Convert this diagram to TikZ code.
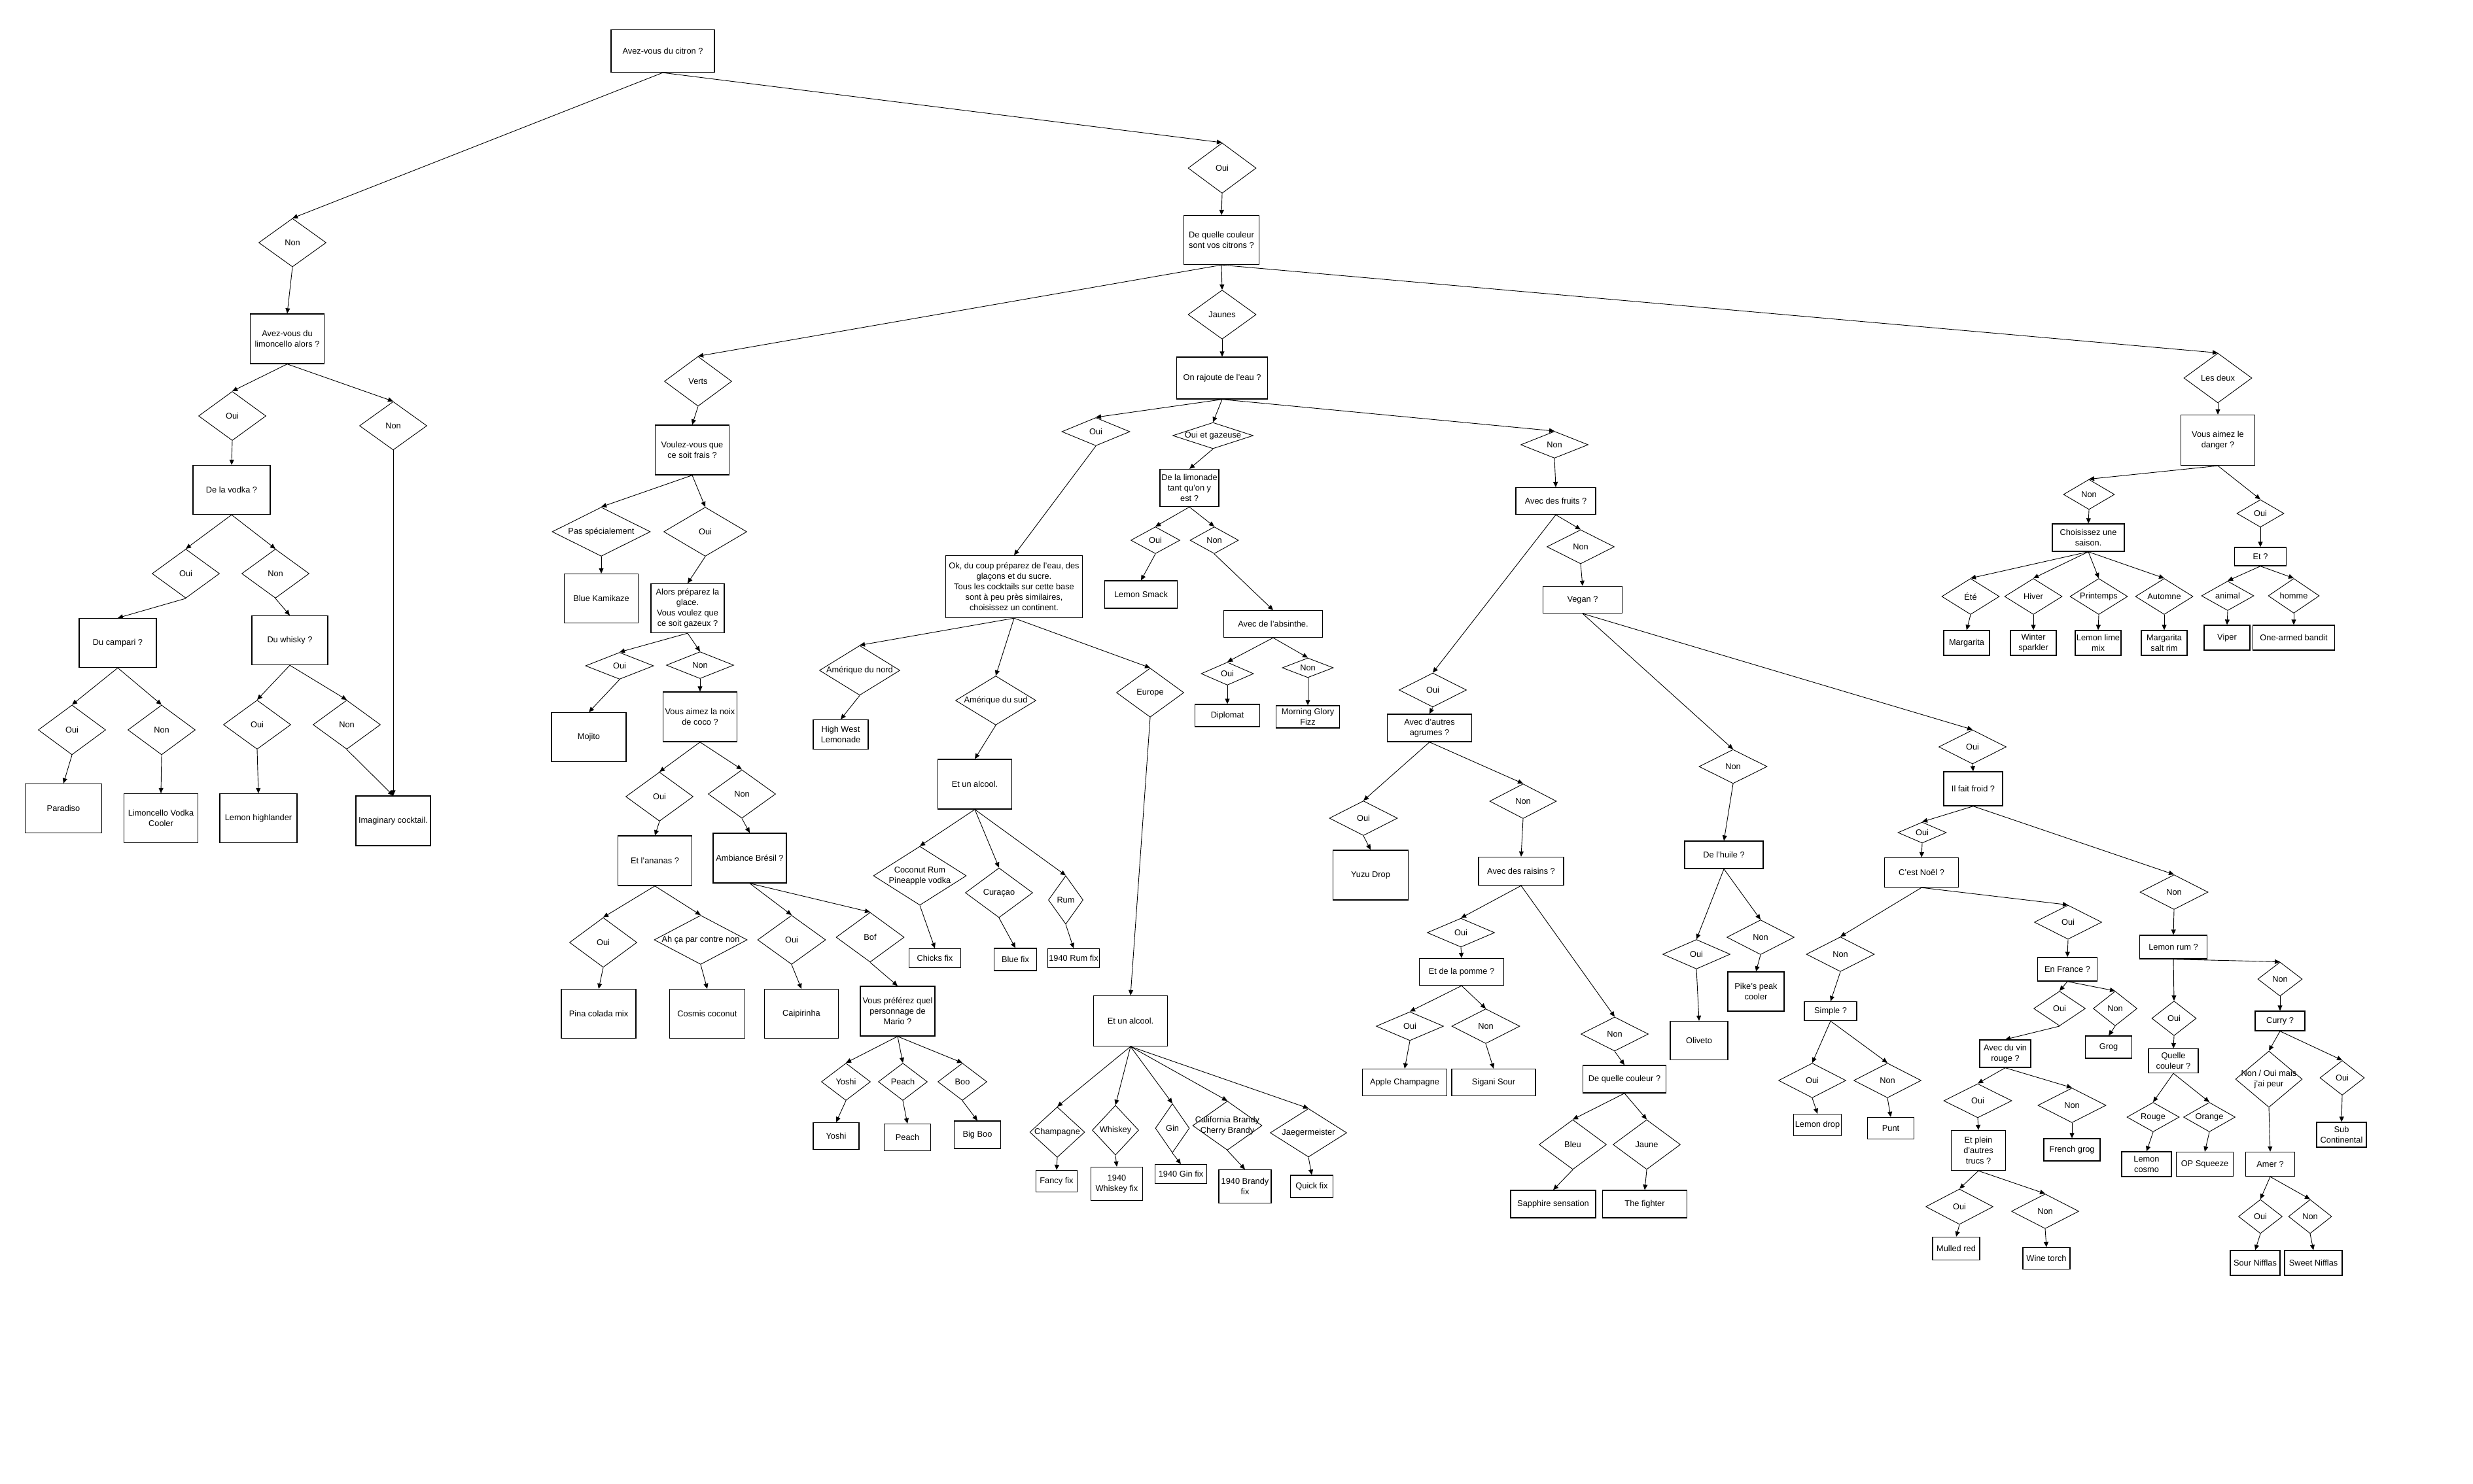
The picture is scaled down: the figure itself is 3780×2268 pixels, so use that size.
\documentclass[tikz,border=0pt]{standalone}
\usepackage{fontspec}
\setmainfont{Liberation Sans}
\usetikzlibrary{shapes.geometric,arrows.meta}
\tikzset{
  bx/.style={draw, line width=1.3pt, rectangle, align=center, inner sep=1pt},
  bs/.style 2 args={bx, minimum width=#1, minimum height=#2},
  dl/.style={align=center, inner sep=0pt},
  dm/.style n args={3}{diamond, draw, line width=0.9pt, inner sep=0pt, minimum width=#1, minimum height=#2, label={[dl]center:{#3}}},
  ar/.style={line width=0.9pt, -{Triangle[length=8pt,width=7pt]}}
}
\begin{document}
\begin{tikzpicture}[x=1pt,y=-1pt,font=\fontsize{12.8}{16}\selectfont]
\fill[white] (0,0) rectangle (3780,2268);
\useasboundingbox (0,0) rectangle (3780,2268);

% ---- root and left "Non" branch
\node[bs={158}{65}] (r0) at (1013,78) {Avez-vous du citron ?};
\node[dm={103}{74}{Non}] (dn0) at (447,371) {};
\node[bs={113}{76}] (blim) at (439,518) {Avez-vous du\\limoncello alors ?};
\node[dm={103}{75}{Oui}] (dlimo) at (355,636) {};
\node[dm={103}{74}{Non}] (dlimn) at (601,651) {};
\node[bs={118}{75}] (bvod) at (354,749) {De la vodka ?};
\node[dm={103}{75}{Oui}] (dvodo) at (284,877) {};
\node[dm={103}{75}{Non}] (dvodn) at (421,877) {};
\node[bs={118}{75}] (bcamp) at (180,983) {Du campari ?};
\node[bs={116}{75}] (bwhis) at (443,979) {Du whisky ?};
\node[dm={103}{76}{Oui}] (dcampo) at (110,1116) {};
\node[dm={103}{76}{Non}] (dcampn) at (247,1116) {};
\node[dm={103}{75}{Oui}] (dwhiso) at (393,1108) {};
\node[dm={103}{75}{Non}] (dwhisn) at (530,1108) {};
\node[bs={117}{75}] (bpara) at (97,1236) {Paradiso};
\node[bs={113}{75}] (blvc) at (246,1251) {Limoncello Vodka\\Cooler};
\node[bs={118}{75}] (blh) at (395,1251) {Lemon highlander};
\node[bs={114}{76}] (bimag) at (601,1255) {Imaginary cocktail.};

% ---- Oui branch
\node[dm={104}{77}{Oui}] (dO) at (1868,257) {};
\node[bs={115}{75}] (bcoul) at (1867,367) {De quelle couleur\\sont vos citrons ?};
\node[dm={103}{76}{Verts}] (dverts) at (1067,583) {};
\node[dm={104}{75}{Jaunes}] (djaunes) at (1868,481) {};
\node[dm={104}{76}{Les deux}] (ddeux) at (3390,578) {};

% ---- Verts
\node[bs={113}{76}] (bfrais) at (1058,688) {Voulez-vous que\\ce soit frais ?};
\node[dm={150}{75}{Pas spécialement}] (dpas) at (919,813) {};
\node[dm={127}{75}{Oui}] (dfraiso) at (1078,813) {};
\node[bs={113}{75}] (bbk) at (919,915) {Blue Kamikaze};
\node[bs={112}{75}] (bglace) at (1051,930) {Alors préparez la\\glace.\\Vous voulez que\\ce soit gazeux ?};
\node[dm={104}{41}{Oui}] (dgazo) at (947,1018) {};
\node[dm={103}{41}{Non}] (dgazn) at (1070,1017) {};
\node[bs={114}{75}] (bmoj) at (900,1127) {Mojito};
\node[bs={113}{76}] (bcoco) at (1070,1096) {Vous aimez la noix\\de coco ?};
\node[dm={103}{75}{Oui}] (dcocoo) at (1008,1218) {};
\node[dm={103}{74}{Non}] (dcocon) at (1134,1214) {};
\node[bs={113}{76}] (banan) at (1001,1316) {Et l'ananas ?};
\node[bs={112}{76}] (bbres) at (1146,1312) {Ambiance Brésil ?};
\node[dm={103}{76}{Oui}] (danano) at (922,1441) {};
\node[dm={142}{75}{Ah ça par contre non}] (dananah) at (1071,1437) {};
\node[dm={104}{75}{Oui}] (dbreso) at (1210,1437) {};
\node[dm={104}{76}{Bof}] (dbof) at (1330,1433) {};
\node[bs={114}{75}] (bpina) at (915,1550) {Pina colada mix};
\node[bs={115}{75}] (bcosm) at (1081,1550) {Cosmis coconut};
\node[bs={113}{75}] (bcaip) at (1225,1550) {Caipirinha};
\node[bs={114}{76}] (bmario) at (1372,1546) {Vous préférez quel\\personnage de\\Mario ?};
\node[dm={75}{57}{Yoshi}] (dyoshi) at (1293,1654) {};
\node[dm={75}{57}{Peach}] (dpeach) at (1380,1654) {};
\node[dm={75}{57}{Boo}] (dboo) at (1471,1654) {};
\node[bs={70}{41}] (byoshi) at (1278,1737) {Yoshi};
\node[bs={71}{41}] (bpeach) at (1387,1739) {Peach};
\node[bs={71}{42}] (bbigboo) at (1494,1735) {Big Boo};

% ---- Jaunes
\node[bs={139}{64}] (beau) at (1868,578) {On rajoute de l'eau ?};
\node[dm={104}{43}{Oui}] (deauo) at (1675,660) {};
\node[dm={123}{40}{Oui et gazeuse}] (deaug) at (1854,666) {};
\node[dm={103}{41}{Non}] (deaun) at (2376,680) {};
\node[bs={209}{95}] (bok) at (1550,897) {Ok, du coup préparez de l'eau, des\\glaçons et du sucre.\\Tous les cocktails sur cette base\\sont à peu près similaires,\\choisissez un continent.};
\node[dm={123}{76}{Amérique du nord}] (damn) at (1314,1025) {};
\node[dm={123}{75}{Amérique du sud}] (dams) at (1522,1071) {};
\node[dm={103}{75}{Europe}] (deur) at (1758,1059) {};
\node[bs={84}{45}] (bhwl) at (1285,1123) {High West\\Lemonade};
\node[bs={113}{76}] (balca) at (1490,1199) {Et un alcool.};
\node[dm={142}{90}{Coconut Rum\\Pineapple vodka}] (dcrp) at (1406,1339) {};
\node[dm={103}{76}{Curaçao}] (dcur) at (1527,1365) {};
\node[dm={53}{74}{Rum}] (drum) at (1629,1376) {};
\node[bs={79}{29}] (bchicks) at (1429,1465) {Chicks fix};
\node[bs={65}{34}] (bbluefix) at (1552,1467) {Blue fix};
\node[bs={79}{29}] (brumfix) at (1641,1465) {1940 Rum fix};
\node[bs={113}{77}] (balcb) at (1728,1561) {Et un alcool.};
\node[dm={84}{77}{Champagne}] (dchamp) at (1616,1731) {};
\node[dm={71}{76}{Whiskey}] (dwhiskey) at (1705,1728) {};
\node[dm={52}{75}{Gin}] (dgin) at (1792,1725) {};
\node[dm={106}{75}{California Brandy\\Cherry Brandy}] (dcal) at (1876,1721) {};
\node[dm={117}{74}{Jaegermeister}] (djaeg) at (2000,1732) {};
\node[bs={63}{33}] (bfancy) at (1615,1806) {Fancy fix};
\node[bs={79}{51}] (bwfix) at (1707,1810) {1940\\Whiskey fix};
\node[bs={79}{29}] (bgfix) at (1805,1795) {1940 Gin fix};
\node[bs={80}{51}] (bbfix) at (1903,1814) {1940 Brandy\\fix};
\node[bs={65}{34}] (bqfix) at (2005,1814) {Quick fix};

% ---- Oui et gazeuse
\node[bs={90}{57}] (blimo) at (1818,746) {De la limonade\\tant qu'on y\\est ?};
\node[dm={75}{41}{Oui}] (dlimoo) at (1766,826) {};
\node[dm={74}{41}{Non}] (dlimon) at (1856,826) {};
\node[bs={111}{42}] (bsmack) at (1744,909) {Lemon Smack};
\node[bs={151}{41}] (babs) at (1946,954) {Avec de l'absinthe.};
\node[dm={80}{35}{Oui}] (dabso) at (1876,1030) {};
\node[dm={78}{30}{Non}] (dabsn) at (1999,1021) {};
\node[bs={99}{34}] (bdipl) at (1876,1094) {Diplomat};
\node[bs={97}{34}] (bmgf) at (1999,1096) {Morning Glory\\Fizz};

% ---- Non (eau)
\node[bs={122}{41}] (bfruits) at (2378,766) {Avec des fruits ?};
\node[dm={103}{52}{Oui}] (dfro) at (2190,1055) {};
\node[dm={103}{52}{Non}] (dfrn) at (2416,836) {};
\node[bs={121}{41}] (bvegan) at (2419,917) {Vegan ?};
\node[bs={129}{42}] (bagr) at (2185,1113) {Avec d'autres\\agrumes ?};
\node[dm={104}{53}{Oui}] (dagro) at (2084,1251) {};
\node[dm={102}{53}{Non}] (dagrn) at (2328,1225) {};
\node[bs={115}{76}] (byuzu) at (2095,1338) {Yuzu Drop};
\node[bs={130}{43}] (brais) at (2325,1332) {Avec des raisins ?};
\node[dm={103}{44}{Oui}] (draiso) at (2233,1426) {};
\node[dm={103}{52}{Non}] (draisn) at (2468,1581) {};
\node[bs={129}{41}] (bpom) at (2234,1486) {Et de la pomme ?};
\node[dm={103}{44}{Oui}] (dpomo) at (2155,1569) {};
\node[dm={104}{53}{Non}] (dpomn) at (2271,1569) {};
\node[bs={129}{41}] (bapple) at (2147,1655) {Apple Champagne};
\node[bs={128}{41}] (bsigani) at (2283,1655) {Sigani Sour};
\node[bs={127}{42}] (bdqc) at (2483,1650) {De quelle couleur ?};
\node[dm={103}{76}{Bleu}] (dbleu) at (2404,1750) {};
\node[dm={103}{76}{Jaune}] (djaune) at (2517,1750) {};
\node[bs={130}{42}] (bsapph) at (2374,1841) {Sapphire sensation};
\node[bs={129}{42}] (bfighter) at (2514,1841) {The fighter};

% ---- Vegan
\node[dm={104}{52}{Non}] (dvegn) at (2649,1172) {};
\node[dm={103}{52}{Oui}] (dvego) at (3015,1142) {};
\node[bs={120}{42}] (bhuile) at (2635,1307) {De l'huile ?};
\node[dm={103}{45}{Oui}] (dhuio) at (2593,1459) {};
\node[dm={103}{53}{Non}] (dhuin) at (2691,1433) {};
\node[bs={88}{59}] (bolive) at (2597,1591) {Oliveto};
\node[bs={86}{60}] (bpike) at (2684,1516) {Pike's peak\\cooler};
\node[bs={90}{52}] (bfroid) at (3016,1206) {Il fait froid ?};
\node[dm={74}{32}{Oui}] (dfroido) at (2938,1273) {};
\node[dm={104}{53}{Non}] (dfroidn) at (3323,1364) {};
\node[bs={113}{45}] (bnoel) at (2937,1334) {C'est Noël ?};
\node[dm={104}{53}{Non}] (dnoeln) at (2813,1459) {};
\node[dm={103}{52}{Oui}] (dnoelo) at (3161,1410) {};
\node[bs={80}{29}] (bsimple) at (2798,1546) {Simple ?};
\node[dm={103}{53}{Oui}] (dsimo) at (2770,1652) {};
\node[dm={103}{53}{Non}] (dsimn) at (2885,1652) {};
\node[bs={73}{33}] (bldrop) at (2778,1720) {Lemon drop};
\node[bs={71}{33}] (bpunt) at (2890,1725) {Punt};
\node[bs={91}{36}] (bfrance) at (3160,1482) {En France ?};
\node[dm={79}{53}{Oui}] (dfrao) at (3148,1542) {};
\node[dm={67}{53}{Non}] (dfran) at (3233,1542) {};
\node[bs={71}{34}] (bgrog) at (3223,1601) {Grog};
\node[bs={78}{42}] (bvin) at (3065,1611) {Avec du vin\\rouge ?};
\node[dm={104}{52}{Oui}] (dvino) at (3023,1683) {};
\node[dm={104}{53}{Non}] (dvinn) at (3167,1690) {};
\node[bs={83}{61}] (btrucs) at (3024,1759) {Et plein\\d'autres\\trucs ?};
\node[bs={86}{34}] (bfgrog) at (3167,1758) {French grog};
\node[dm={103}{54}{Oui}] (dtruco) at (2995,1845) {};
\node[dm={103}{53}{Non}] (dtrucn) at (3126,1852) {};
\node[bs={72}{35}] (bmulled) at (2990,1909) {Mulled red};
\node[bs={72}{33}] (bwtorch) at (3128,1924) {Wine torch};
\node[bs={103}{36}] (blrum) at (3322,1448) {Lemon rum ?};
\node[dm={68}{53}{Oui}] (dlrumo) at (3323,1557) {};
\node[dm={68}{52}{Non}] (dlrumn) at (3485,1497) {};
\node[bs={76}{37}] (bqcoul) at (3322,1622) {Quelle\\couleur ?};
\node[dm={80}{45}{Rouge}] (drouge) at (3291,1708) {};
\node[dm={79}{45}{Orange}] (dorange) at (3377,1708) {};
\node[bs={76}{38}] (blcosmo) at (3281,1780) {Lemon\\cosmo};
\node[bs={87}{37}] (bopsq) at (3370,1780) {OP Squeeze};
\node[bs={76}{30}] (bcurry) at (3485,1561) {Curry ?};
\node[dm={102}{86}{Non / Oui mais\\j'ai peur}] (dpeur) at (3468,1650) {};
\node[dm={68}{53}{Oui}] (dcurryo) at (3580,1648) {};
\node[bs={76}{38}] (bsubc) at (3579,1735) {Sub\\Continental};
\node[bs={75}{37}] (bamer) at (3470,1780) {Amer ?};
\node[dm={67}{52}{Oui}] (damero) at (3455,1860) {};
\node[dm={66}{52}{Non}] (damern) at (3531,1860) {};
\node[bs={76}{38}] (bsour) at (3447,1931) {Sour Nifflas};
\node[bs={88}{38}] (bsweet) at (3536,1931) {Sweet Nifflas};

% ---- Les deux
\node[bs={113}{77}] (bdanger) at (3390,673) {Vous aimez le\\danger ?};
\node[dm={78}{46}{Non}] (ddangn) at (3193,756) {};
\node[dm={72}{42}{Oui}] (ddango) at (3455,785) {};
\node[bs={110}{42}] (bsaison) at (3192,822) {Choisissez une\\saison.};
\node[bs={79}{28}] (bet) at (3455,851) {Et ?};
\node[dm={88}{55}{Été}] (dete) at (3012,912) {};
\node[dm={88}{55}{Hiver}] (dhiver) at (3108,912) {};
\node[dm={88}{55}{Printemps}] (dprint) at (3208,912) {};
\node[dm={88}{55}{Automne}] (dautom) at (3308,912) {};
\node[dm={80}{45}{animal}] (danimal) at (3405,911) {};
\node[dm={78}{53}{homme}] (dhomme) at (3506,911) {};
\node[bs={70}{38}] (bmarg) at (3006,983) {Margarita};
\node[bs={70}{38}] (bwint) at (3108,983) {Winter\\sparkler};
\node[bs={70}{38}] (bllm) at (3207,983) {Lemon lime\\mix};
\node[bs={70}{38}] (bmsr) at (3308,983) {Margarita\\salt rim};
\node[bs={70}{38}] (bviper) at (3404,975) {Viper};
\node[bs={125}{38}] (bbandit) at (3506,975) {One-armed bandit};

% ---- connectors
\foreach \a/\b in {r0/dn0, dn0/blim, blim/dlimo, blim/dlimn, dlimo/bvod, dlimn/bimag,
  bvod/dvodo, bvod/dvodn, dvodo/bcamp, dvodn/bwhis, bcamp/dcampo, bcamp/dcampn,
  bwhis/dwhiso, bwhis/dwhisn, dcampo/bpara, dcampn/blvc, dwhiso/blh, dwhisn/bimag,
  r0/dO, dO/bcoul, bcoul/dverts, bcoul/djaunes, bcoul/ddeux,
  dverts/bfrais, bfrais/dpas, bfrais/dfraiso, dpas/bbk, dfraiso/bglace,
  bglace/dgazo, bglace/dgazn, dgazo/bmoj, dgazn/bcoco, bcoco/dcocoo, bcoco/dcocon,
  dcocoo/banan, dcocon/bbres, banan/danano, banan/dananah, bbres/dbreso, bbres/dbof,
  danano/bpina, dananah/bcosm, dbreso/bcaip, dbof/bmario,
  bmario/dyoshi, bmario/dpeach, bmario/dboo, dyoshi/byoshi, dpeach/bpeach, dboo/bbigboo,
  djaunes/beau, beau/deauo, beau/deaug, beau/deaun, deauo/bok,
  bok/damn, bok/dams, bok/deur, damn/bhwl, dams/balca,
  balca/dcrp, balca/dcur, balca/drum, dcrp/bchicks, dcur/bbluefix, drum/brumfix,
  deur/balcb, balcb/dchamp, balcb/dwhiskey, balcb/dgin, balcb/dcal, balcb/djaeg,
  dchamp/bfancy, dwhiskey/bwfix, dgin/bgfix, dcal/bbfix, djaeg/bqfix,
  deaug/blimo, blimo/dlimoo, blimo/dlimon, dlimoo/bsmack, dlimon/babs,
  babs/dabso, babs/dabsn, dabso/bdipl, dabsn/bmgf,
  deaun/bfruits, bfruits/dfro, bfruits/dfrn, dfrn/bvegan, dfro/bagr,
  bagr/dagro, bagr/dagrn, dagro/byuzu, dagrn/brais, brais/draiso, brais/draisn,
  draiso/bpom, bpom/dpomo, bpom/dpomn, dpomo/bapple, dpomn/bsigani,
  draisn/bdqc, bdqc/dbleu, bdqc/djaune, dbleu/bsapph, djaune/bfighter,
  bvegan/dvegn, bvegan/dvego, dvegn/bhuile, bhuile/dhuio, bhuile/dhuin,
  dhuio/bolive, dhuin/bpike,
  dvego/bfroid, bfroid/dfroido, bfroid/dfroidn, dfroido/bnoel,
  bnoel/dnoeln, bnoel/dnoelo, dnoeln/bsimple, bsimple/dsimo, bsimple/dsimn,
  dsimo/bldrop, dsimn/bpunt, dnoelo/bfrance, bfrance/dfrao, bfrance/dfran,
  dfran/bgrog, dfrao/bvin, bvin/dvino, bvin/dvinn, dvino/btrucs, dvinn/bfgrog,
  btrucs/dtruco, btrucs/dtrucn, dtruco/bmulled, dtrucn/bwtorch,
  dfroidn/blrum, blrum/dlrumo, blrum/dlrumn, dlrumo/bqcoul, bqcoul/drouge, bqcoul/dorange,
  drouge/blcosmo, dorange/bopsq, dlrumn/bcurry, bcurry/dpeur, bcurry/dcurryo,
  dcurryo/bsubc, dpeur/bamer, bamer/damero, bamer/damern, damero/bsour, damern/bsweet,
  ddeux/bdanger, bdanger/ddangn, bdanger/ddango, ddangn/bsaison, ddango/bet,
  bsaison/dete, bsaison/dhiver, bsaison/dprint, bsaison/dautom,
  bet/danimal, bet/dhomme, dete/bmarg, dhiver/bwint, dprint/bllm, dautom/bmsr,
  danimal/bviper, dhomme/bbandit}
  \draw[ar] (\a.south) -- (\b.north);
\end{tikzpicture}
\end{document}
